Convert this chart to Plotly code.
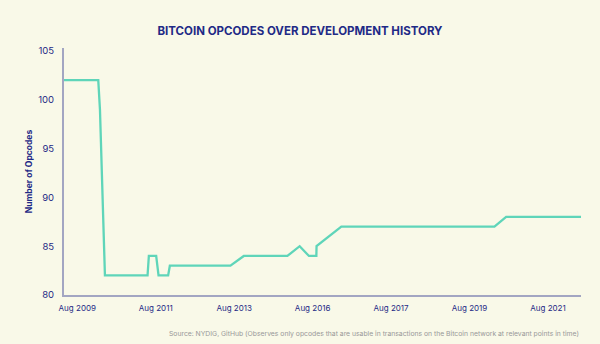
import plotly.graph_objects as go

# Position along the (non-linear) release axis, 12 units per labelled tick
x_pos = [-2.03, 3.21, 3.47, 4.23, 10.75, 10.95, 12.07, 12.43, 13.90, 14.16,
         23.43, 25.47, 32.14, 34.02, 35.44, 36.57, 36.6, 37.9, 38.6, 40.39,
         63.81, 65.6, 77.05]
opcodes = [102, 102, 99, 82, 82, 84, 84, 82, 82, 83,
           83, 84, 84, 85, 84, 84, 85, 85.7, 86, 87,
           87, 88, 88]

tick_pos = [0, 12, 24, 36, 48, 60, 72]
tick_labels = ["Aug 2009", "Aug 2011", "Aug 2013", "Aug 2016",
               "Aug 2017", "Aug 2019", "Aug 2021"]
y_ticks = [80, 85, 90, 95, 100, 105]

NAVY = "#1f2a86"
BG = "#f9f9e8"
AXIS = "#a3a6c2"
LINE = "#5fd5b9"

fig = go.Figure()
fig.add_trace(go.Scatter(
    x=x_pos, y=opcodes, mode="lines",
    line=dict(color=LINE, width=2.3),
    hoverinfo="skip", showlegend=False,
))

fig.update_layout(
    width=600, height=344,
    paper_bgcolor=BG, plot_bgcolor=BG,
    margin=dict(l=64, r=19, t=48, b=49),
    font=dict(family="Inter, Roboto, sans-serif", color=NAVY),
    title=dict(
        text="<b>BITCOIN OPCODES OVER DEVELOPMENT HISTORY</b>",
        x=0.5, xanchor="center", y=1 - 30.5 / 344, yanchor="middle",
        font=dict(size=11.5, color=NAVY, family="Inter, sans-serif"),
    ),
    xaxis=dict(
        range=[-2.03, 77.05],
        tickmode="array", tickvals=tick_pos, ticktext=tick_labels,
        showgrid=False, zeroline=False,
        showline=True, linecolor=AXIS, linewidth=2,
        ticks="", tickfont=dict(size=8, color=NAVY),
        ticklabelstandoff=4,
    ),
    yaxis=dict(
        range=[80, 105.3],
        tickmode="array", tickvals=y_ticks,
        showgrid=False, zeroline=False,
        showline=True, linecolor=AXIS, linewidth=2,
        ticks="", tickfont=dict(size=9.5, color=NAVY),
        ticklabelstandoff=6,
        title=dict(text="<b>Number of Opcodes</b>", standoff=4,
                   font=dict(size=8.5, color=NAVY)),
    ),
)

fig.add_annotation(
    text="Source: NYDIG, GitHub (Observes only opcodes that are usable in transactions on the Bitcoin network at relevant points in time)",
    xref="paper", yref="paper", x=1, y=-38 / 247, xanchor="right", yanchor="middle",
    showarrow=False,
    font=dict(size=6.8, color="#989898"),
)

fig.write_html("out.html")
